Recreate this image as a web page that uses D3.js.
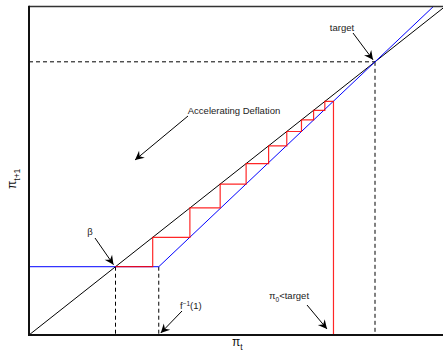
<!DOCTYPE html>
<html>
<head>
<meta charset="utf-8">
<script src="https://cdn.jsdelivr.net/npm/d3@7"></script>
<style>
  body { margin: 0; background: #fff; }
  svg { display: block; font-family: "Liberation Sans", Arial, sans-serif; }
</style>
</head>
<body>
<div id="chart"></div>
<script>
// model values (data units)
const beta = 1
const finv = 1.5
const target = 4
const diagX = [0, 5.2]
const policyX = [0, 1.5, 4, 4.75]
const policyY = [1, 1, 4, 4.9]
// cobweb iterates, pi0 first
const cobweb = [3.52, 3.42, 3.29, 3.15, 2.98, 2.77, 2.51, 2.21, 1.86, 1.43, 1.0]

const width = 443
const height = 357
const margin = { top: 6.5, bottom: 22, left: 29 }

const svg = d3.select("#chart")
    .append("svg")
    .attr("width", width)
    .attr("height", height)

const x = d3.scaleLinear()
    .domain([0, 5])
    .range([margin.left, margin.left + 5 * 86.5])

const y = d3.scaleLinear()
    .domain([0, 4.81])
    .range([height - margin.bottom, margin.top])

svg.append("defs").append("clipPath")
    .attr("id", "plot")
    .append("rect")
    .attr("x", x(0))
    .attr("y", y(4.81))
    .attr("width", width - x(0))
    .attr("height", y(0) - y(4.81))

svg.select("defs").append("marker")
    .attr("id", "head")
    .attr("markerUnits", "userSpaceOnUse")
    .attr("viewBox", "-10 -6 12 12")
    .attr("refX", 0)
    .attr("refY", 0)
    .attr("markerWidth", 12)
    .attr("markerHeight", 12)
    .attr("orient", "auto")
    .append("path")
    .attr("d", "M0,0 L-9,-4.5 L-6,0 L-9,4.5 Z")
    .attr("fill", "#000")

const g = svg.append("g").attr("clip-path", "url(#plot)")
const line = d3.line().x(d => x(d[0])).y(d => y(d[1]))

// dashed guides
const dashes = [
    [[0, target], [target, target]],
    [[target, target], [target, 0]],
    [[beta, beta], [beta, 0]],
    [[finv, beta], [finv, 0]]
]
g.selectAll(".guide")
    .data(dashes)
    .join("path")
    .attr("class", "guide")
    .attr("d", line)
    .attr("fill", "none")
    .attr("stroke", "#000")
    .attr("stroke-width", 1)
    .attr("stroke-dasharray", "4,3")

// 45 degree line
g.append("path")
    .attr("d", line(diagX.map(v => [v, v])))
    .attr("fill", "none")
    .attr("stroke", "#000")
    .attr("stroke-width", 1)

// policy curve
g.append("path")
    .attr("d", line(policyX.map((v, i) => [v, policyY[i]])))
    .attr("fill", "none")
    .attr("stroke", "#0000ff")
    .attr("stroke-width", 1)

// cobweb
let web = [[cobweb[0], 0]]
for (let i = 0; i < cobweb.length - 1; i++) {
    web.push([cobweb[i], cobweb[i + 1]])
    web.push([cobweb[i + 1], cobweb[i + 1]])
}
g.append("path")
    .attr("d", line(web))
    .attr("fill", "none")
    .attr("stroke", "#ff0000")
    .attr("stroke-opacity", 0.85)
    .attr("stroke-width", 1.2)

// frame
svg.append("line")
    .attr("x1", x(0)).attr("x2", width)
    .attr("y1", y(4.81)).attr("y2", y(4.81))
    .attr("stroke", "#333").attr("stroke-width", 1.5)
svg.append("line")
    .attr("x1", x(0)).attr("x2", x(0))
    .attr("y1", y(4.81) - 0.7).attr("y2", y(0) + 1)
    .attr("stroke", "#111").attr("stroke-width", 2)
svg.append("line")
    .attr("x1", x(0) - 1).attr("x2", width)
    .attr("y1", y(0)).attr("y2", y(0))
    .attr("stroke", "#111").attr("stroke-width", 2)

// annotations
function arrow(x1, y1, x2, y2) {
    svg.append("line")
        .attr("x1", x1).attr("y1", y1)
        .attr("x2", x2).attr("y2", y2)
        .attr("stroke", "#000")
        .attr("stroke-width", 1)
        .attr("marker-end", "url(#head)")
}

const fs = 9.5
svg.append("text")
    .attr("x", 342).attr("y", 31)
    .attr("text-anchor", "middle")
    .attr("font-size", fs).attr("fill", "#222")
    .text("target")
arrow(353, 33, x(target) - 2, y(target) - 2)

svg.append("text")
    .attr("x", 234).attr("y", 114)
    .attr("text-anchor", "middle")
    .attr("font-size", fs).attr("fill", "#222")
    .text("Accelerating Deflation")
arrow(188, 116, 135, 160)

svg.append("text")
    .attr("x", 90).attr("y", 235)
    .attr("text-anchor", "middle")
    .attr("font-size", fs).attr("fill", "#222")
    .text("β")
arrow(95, 238, x(beta) - 2, y(beta) - 2)

const ft = svg.append("text")
    .attr("x", 180).attr("y", 309)
    .attr("font-size", fs).attr("fill", "#222")
ft.append("tspan").text("f")
ft.append("tspan").attr("dy", -3.5).attr("font-size", 6.5).text("−1")
ft.append("tspan").attr("dy", 3.5).text("(1)")
arrow(182, 311, x(finv) + 2, y(0) - 2)

const pt = svg.append("text")
    .attr("x", 269).attr("y", 299)
    .attr("font-size", fs).attr("fill", "#222")
pt.append("tspan").text("π")
pt.append("tspan").attr("dy", 3).attr("font-size", 6.5).text("0")
pt.append("tspan").attr("dy", -3).text("<target")
arrow(307, 305, 327, 329)

// axis labels
const xl = svg.append("text")
    .attr("x", 232).attr("y", 346)
    .attr("font-size", 12).attr("fill", "#111")
xl.append("tspan").text("π")
xl.append("tspan").attr("dy", 4).attr("font-size", 8.5).text("t")

const yl = svg.append("text")
    .attr("transform", "translate(16,189) rotate(-90)")
    .attr("font-size", 12).attr("fill", "#111")
yl.append("tspan").text("π")
yl.append("tspan").attr("dy", 4).attr("font-size", 8.5).text("t+1")
</script>
</body>
</html>
